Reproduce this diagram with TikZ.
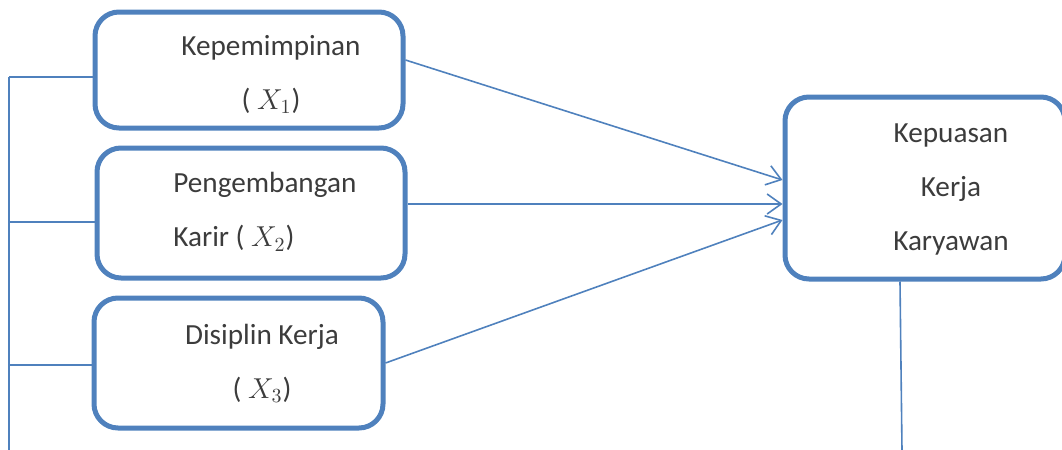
\documentclass[tikz,border=0pt]{standalone}
\usepackage{fontspec}
\setmainfont{Carlito}
\usetikzlibrary{calc, arrows.meta}
\tikzset{>={Straight Barb[length=7pt,width=10pt]}}
\definecolor{oblue}{RGB}{79, 129, 189}
\definecolor{otext}{RGB}{60, 60, 60}

\begin{document}
\begin{tikzpicture}[x=0.5pt, y=-0.5pt,
    varbox/.style={rectangle,rounded corners=12pt,draw=oblue,line width=2.5pt,inner sep=0pt},
    vartext/.style={align=center,inner sep=0pt,text=otext,font=\fontsize{14.6}{27}\selectfont},
    link/.style={oblue,line width=0.8pt}
  ]
  \useasboundingbox (0,0) rectangle (1062,450);

  % the four variables
  \node[varbox,minimum width=154pt,minimum height=58pt] (x1) at (249,70) {};
  \node[varbox,minimum width=154pt,minimum height=65pt] (x2) at (251,213) {};
  \node[varbox,minimum width=144.5pt,minimum height=65pt] (x3) at (238.5,363) {};
  \node[varbox,minimum width=140pt,minimum height=91pt] (y) at (925,188) {};

  \node[vartext] (t1) at (271,74.5) {Kepemimpinan\\( $X_1$)};
  \node[vartext,align=left,anchor=west] (t2) at (173,212) {Pengembangan\\Karir ( $X_2$)};
  \node[vartext] (t3) at (262,363.5) {Disiplin Kerja\\( $X_3$)};
  \node[vartext] (ty) at (951,189) {Kepuasan\\Kerja\\Karyawan};

  % arrows into Y
  \draw[link,->] ([yshift=5pt]x1.east) -- ([yshift=4pt]y.west);
  \draw[link,->] ([yshift=4.5pt]x2.east) -- ([yshift=-8pt]y.west);
  \draw[link,->] (x3.east) -- ([yshift=-16pt]y.west);

  % left bracket
  \coordinate (top) at (9,77);
  \coordinate (bot) at (9,450);
  \draw[link] (top) -- (bot);
  \foreach \b/\s in {x1/-3.5, x2/-4.5, x3/-1} {
    \draw[link] ([yshift=\s pt]\b.west) coordinate (h) -- (h -| bot);
  }

  \coordinate (yend) at (902,450);
  \draw[link] ([xshift=-12.5pt]y.south) -- (yend);

\end{tikzpicture}
\end{document}
